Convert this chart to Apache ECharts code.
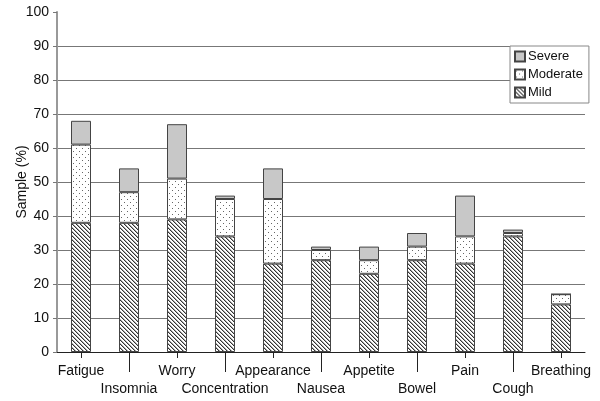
<!DOCTYPE html>
<html>
<head>
<meta charset="utf-8">
<script src="https://cdn.jsdelivr.net/npm/echarts@6/dist/echarts.min.js"></script>
<style>html,body{margin:0;padding:0;background:#fff;}#c{width:600px;height:401px;}</style>
</head>
<body>
<div id="c"></div>
<script>
var categories = ['Fatigue','Insomnia','Worry','Concentration','Appearance','Nausea','Appetite','Bowel','Pain','Cough','Breathing'];
var mild     = [38, 38, 39, 34, 26, 27, 23, 27, 26, 34, 14];
var moderate = [23,  9, 12, 11, 19,  3,  4,  4,  8,  1,  3];
var severe   = [ 7,  7, 16,  1,  9,  1,  4,  4, 12,  1,  0];
var yTicks = [0,10,20,30,40,50,60,70,80,90,100];

function makePattern(size, draw){
  var c = document.createElement('canvas');
  c.width = size; c.height = size;
  var ctx = c.getContext('2d');
  ctx.fillStyle = '#fff'; ctx.fillRect(0,0,size,size);
  draw(ctx);
  return {image: c, repeat: 'repeat'};
}
var hatch = makePattern(4, function(ctx){
  for (var i=0;i<4;i++){
    ctx.fillStyle = '#333'; ctx.fillRect(i,i,1,1);
    ctx.fillStyle = '#aaa'; ctx.fillRect((i+1)%4,i,1,1);
  }
});
var dots = makePattern(6, function(ctx){
  ctx.fillStyle = '#666';
  ctx.fillRect(1,1,1,1);
  ctx.fillRect(4,4,1,1);
});

var chart = echarts.init(document.getElementById('c'), null, {renderer:'canvas'});
var font = "'Liberation Sans', Arial, sans-serif";
var xBase = {
  type:'category', data: categories, position:'bottom',
  axisLine:{show:true, lineStyle:{color:'#222', width:1}},
  splitLine:{show:false}
};
var option = {
  animation:false,
  textStyle:{fontFamily:font},
  grid:{left:57, top:12, width:528, height:340, containLabel:false, outerBoundsMode:'none'},
  legend:{
    orient:'vertical', left:510, top:46,
    data:['Severe','Moderate','Mild'],
    backgroundColor:'#fff', borderColor:'#888', borderWidth:1,
    padding:[4,6,4,4], itemGap:5, itemWidth:10, itemHeight:10,
    icon:'rect',
    textStyle:{fontFamily:font, fontSize:13, color:'#111', padding:[0,0,0,-2]}
  },
  xAxis:[
    Object.assign({}, xBase, {
      axisTick:{show:true, alignWithLabel:true, length:6, interval:function(i){return i%2===0;}, lineStyle:{color:'#222'}},
      axisLabel:{fontFamily:font, fontSize:14, color:'#111', margin:12, interval:function(i){return i%2===0;}, hideOverlap:false}
    }),
    Object.assign({}, xBase, {
      axisLine:{show:false},
      axisTick:{show:true, alignWithLabel:true, length:20, interval:function(i){return i%2===1;}, lineStyle:{color:'#222'}},
      axisLabel:{fontFamily:font, fontSize:14, color:'#111', margin:30, interval:function(i){return i%2===1;}, hideOverlap:false}
    })
  ],
  yAxis:{
    type:'value', min:0, max:100, interval:10,
    name:'Sample (%)', nameLocation:'middle', nameGap:28, nameMoveOverlap:false,
    nameTextStyle:{fontFamily:font, fontSize:14, color:'#111'},
    axisLine:{show:true, lineStyle:{color:'#999', width:2}},
    axisTick:{show:true, length:4, lineStyle:{color:'#777'}},
    axisLabel:{fontFamily:font, fontSize:14, color:'#111', margin:8,
      formatter:function(v){return yTicks.indexOf(v)>=0 ? String(v) : '';}},
    splitLine:{show:true, showMinLine:false, showMaxLine:false, lineStyle:{color:'#777', width:1}}
  },
  series:[
    {name:'Mild', type:'bar', stack:'s', data:mild, barWidth:20,
      itemStyle:{color:hatch, borderColor:'#444', borderWidth:1}},
    {name:'Moderate', type:'bar', stack:'s', data:moderate, barWidth:20,
      itemStyle:{color:dots, borderColor:'#444', borderWidth:1}},
    {name:'Severe', type:'bar', stack:'s', data:severe, barWidth:20,
      itemStyle:{color:'#c8c8c8', borderColor:'#444', borderWidth:1}}
  ]
};
chart.setOption(option);
</script>
</body>
</html>
